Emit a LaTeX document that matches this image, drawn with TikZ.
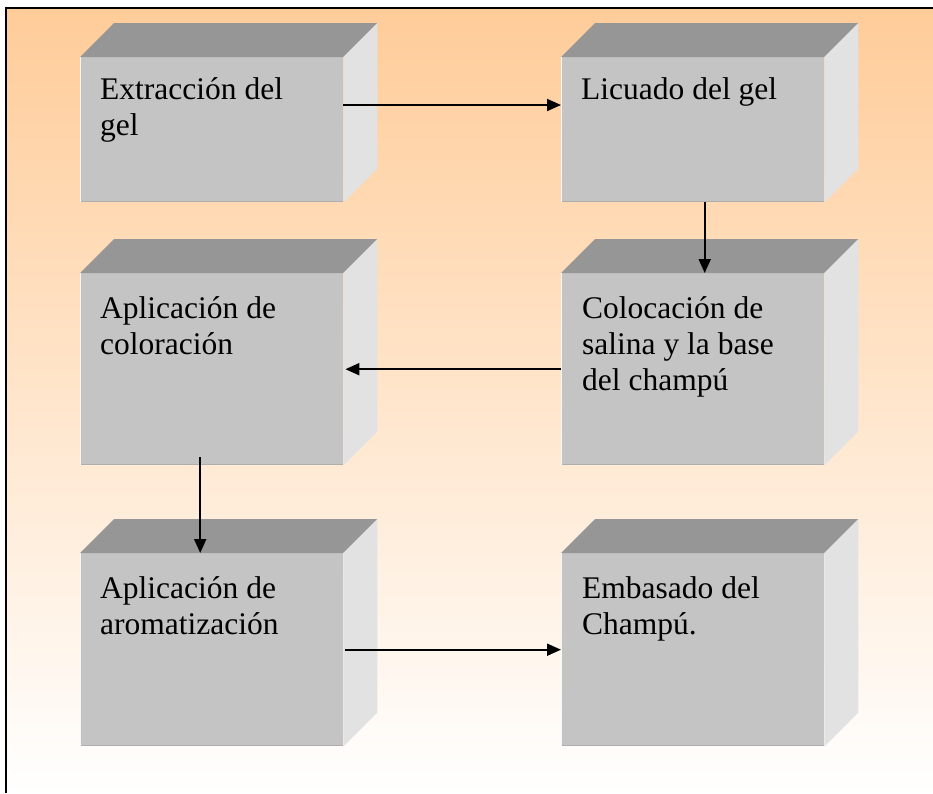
\documentclass[tikz,border=0pt]{standalone}
\usepackage{fontspec}
\setmainfont{Liberation Serif}
\usetikzlibrary{arrows.meta}
\definecolor{peach}{HTML}{FFCC99}
\definecolor{frontc}{HTML}{C4C4C4}
\definecolor{topc}{HTML}{969696}
\definecolor{sidec}{HTML}{E2E2E2}
\definecolor{edgec}{HTML}{AEAEAE}
\tikzset{
  front/.style={fill=frontc, draw=none, inner sep=0pt, anchor=north west, minimum width=263pt},
  lbl/.style={inner sep=0pt, anchor=north west, align=left, font=\fontsize{31.5pt}{36pt}\selectfont},
  arr/.style={line width=2pt, -{Triangle[length=14pt,width=12pt]}},
}
\newcommand{\cubefaces}[1]{%
  \fill[topc] (#1.north west) -- ++(34,-34) -- ([shift={(34,-34)}]#1.north east) -- (#1.north east) -- cycle;
  \fill[sidec] (#1.north east) -- ++(34,-34) -- ([shift={(34,-34)}]#1.south east) -- (#1.south east) -- cycle;
  \draw[edgec, line width=1.5pt] ([yshift=0.75pt]#1.south west) -- ([yshift=0.75pt]#1.south east);
  \draw[white!85!frontc, line width=1pt] ([xshift=0.5pt]#1.south west) -- ([xshift=0.5pt]#1.north west);
}
\begin{document}
\begin{tikzpicture}[x=1pt,y=-1pt]
\useasboundingbox (0,0) rectangle (933,793);
\shade[top color=peach, bottom color=white] (6,8) rectangle (933,793);
\draw[line width=2pt] (6,793) -- (6,8) -- (933,8);

\node[front, minimum height=145pt] (b1) at (80,57) {};
\node[front, minimum height=145pt] (b2) at (561,57) {};
\node[front, minimum height=192pt] (b4) at (80,273) {};
\node[front, minimum height=192pt] (b3) at (561,273) {};
\node[front, minimum height=193pt] (b5) at (80,553) {};
\node[front, minimum height=193pt] (b6) at (561,553) {};

\cubefaces{b1}
\cubefaces{b2}
\cubefaces{b3}
\cubefaces{b4}
\cubefaces{b5}
\cubefaces{b6}

\node[lbl] (t1) at ([xshift=20pt,yshift=-20pt]b1.north west) {Extracción del\\gel};
\node[lbl] (t2) at ([xshift=20pt,yshift=-20pt]b2.north west) {Licuado del gel};
\node[lbl] (t3) at ([xshift=21pt,yshift=-23pt]b3.north west) {Colocación de\\salina y la base\\del champú};
\node[lbl] (t4) at ([xshift=20pt,yshift=-23pt]b4.north west) {Aplicación de\\coloración};
\node[lbl] (t5) at ([xshift=20pt,yshift=-23pt]b5.north west) {Aplicación de\\aromatización};
\node[lbl] (t6) at ([xshift=21pt,yshift=-23pt]b6.north west) {Embasado del\\Champú.};

\draw[arr] ([yshift=-48pt]b1.north east) -- ([yshift=-48pt]b2.north west);
\draw[arr] ([xshift=12pt]b2.south) -- ([xshift=12pt]b3.north);
\draw[arr] (b3.west) -- ([xshift=2pt]b4.east);
\draw[arr] ([xshift=-11.5pt,yshift=8pt]b4.south) -- ([xshift=-11.5pt]b5.north);
\draw[arr] ([xshift=2pt]b5.east) -- (b6.west);
\end{tikzpicture}
\end{document}
